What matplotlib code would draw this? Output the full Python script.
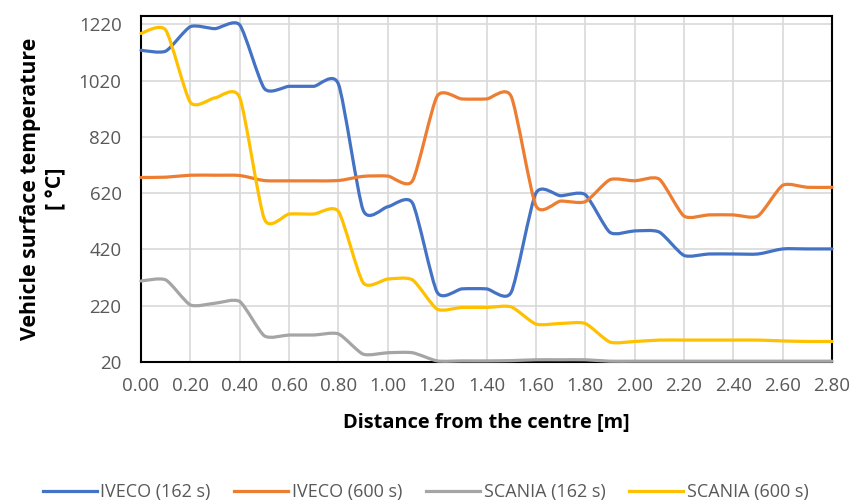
import matplotlib
matplotlib.use('Agg')
import matplotlib.pyplot as plt
from matplotlib.path import Path
from matplotlib.patches import PathPatch
from matplotlib.lines import Line2D

plt.rcParams['font.family'] = ['Open Sans', 'DejaVu Sans']

distance = [0.0, 0.1, 0.2, 0.3, 0.4, 0.5, 0.6, 0.7, 0.8, 0.9, 1.0, 1.1, 1.2, 1.3,
            1.4, 1.5, 1.6, 1.7, 1.8, 1.9, 2.0, 2.1, 2.2, 2.3, 2.4, 2.5, 2.6, 2.7, 2.8]

iveco_162 = [1128, 1125, 1212, 1205, 1218, 992, 1000, 1000, 1008, 560, 572, 585, 268, 280,
             280, 268, 620, 611, 615, 481, 486, 482, 399, 404, 404, 404, 422, 422, 422]
iveco_600 = [676, 677, 684, 684, 683, 665, 664, 664, 665, 680, 681, 664, 965, 955,
             955, 964, 576, 592, 590, 668, 664, 670, 539, 543, 543, 539, 648, 641, 641]
scania_162 = [308, 312, 223, 229, 235, 113, 116, 116, 120, 48, 53, 53, 24, 24,
              24, 25, 28, 28, 28, 23, 23, 23, 23, 23, 23, 23, 23, 23, 23]
scania_600 = [1188, 1200, 943, 959, 960, 528, 546, 546, 555, 302, 315, 312, 208, 214,
              214, 216, 155, 157, 157, 91, 93, 98, 98, 98, 98, 98, 95, 93, 93]

series = [('IVECO (162 s)', iveco_162, '#4472C4'),
          ('IVECO (600 s)', iveco_600, '#ED7D31'),
          ('SCANIA (162 s)', scania_162, '#A5A5A5'),
          ('SCANIA (600 s)', scania_600, '#FFC000')]

yticks = [20, 220, 420, 620, 820, 1020, 1220]
xticks = [0.0, 0.2, 0.4, 0.6, 0.8, 1.0, 1.2, 1.4, 1.6, 1.8, 2.0, 2.2, 2.4, 2.6, 2.8]


# smoothed line like the spreadsheet one (bezier through the points)
def smooth_path(xs, ys, k=0.11):
    pts = list(zip(xs, ys))
    verts = [pts[0]]
    codes = [Path.MOVETO]
    n = len(pts)
    for i in range(n - 1):
        p0 = pts[max(i - 1, 0)]
        p1 = pts[i]
        p2 = pts[i + 1]
        p3 = pts[min(i + 2, n - 1)]
        c1 = (p1[0] + (p2[0] - p0[0]) * k, p1[1] + (p2[1] - p0[1]) * k)
        c2 = (p2[0] - (p3[0] - p1[0]) * k, p2[1] - (p3[1] - p1[1]) * k)
        verts += [c1, c2, p2]
        codes += [Path.CURVE4] * 3
    return Path(verts, codes)


fig = plt.figure(figsize=(8.51, 5.04), dpi=100)
ax = fig.add_axes([0.1657, 0.2817, 0.812, 0.6866])

for name, vals, col in series:
    patch = PathPatch(smooth_path(distance, vals), facecolor='none', edgecolor=col,
                      lw=2.3, capstyle='round', joinstyle='round', zorder=3)
    patch.set_clip_on(False)
    ax.add_patch(patch)

ax.set_xlim(0, 2.8)
ax.set_ylim(20, 1250)
ax.set_xticks(xticks)
ax.set_xticklabels(['%.2f' % v for v in xticks])
ax.set_yticks(yticks)
ax.grid(True, color='#D9D9D9', lw=1.2)
ax.set_axisbelow(True)
ax.tick_params(length=0, labelsize=13.5, colors='#595959')
ax.tick_params(axis='x', pad=11)
ax.tick_params(axis='y', pad=14)
for s in ax.spines.values():
    s.set_color('black')
    s.set_linewidth(1.5)

ax.set_xlabel('Distance from the centre [m]', fontsize=14.4, fontweight='bold', labelpad=13)
ax.set_ylabel('Vehicle surface temperature\n[ °C]', fontsize=15.3, fontweight='bold',
              labelpad=9, linespacing=1.25)

handles = [Line2D([], [], color=col, lw=2.3) for _, _, col in series]
fig.legend(handles, [s[0] for s in series], loc='center', bbox_to_anchor=(0.5, 0.024),
           ncol=4, frameon=False, fontsize=13, handlelength=3.0, columnspacing=1.3,
           handletextpad=0.2, labelcolor='#595959', borderpad=0.2)

fig.savefig('out.png', dpi=100)
